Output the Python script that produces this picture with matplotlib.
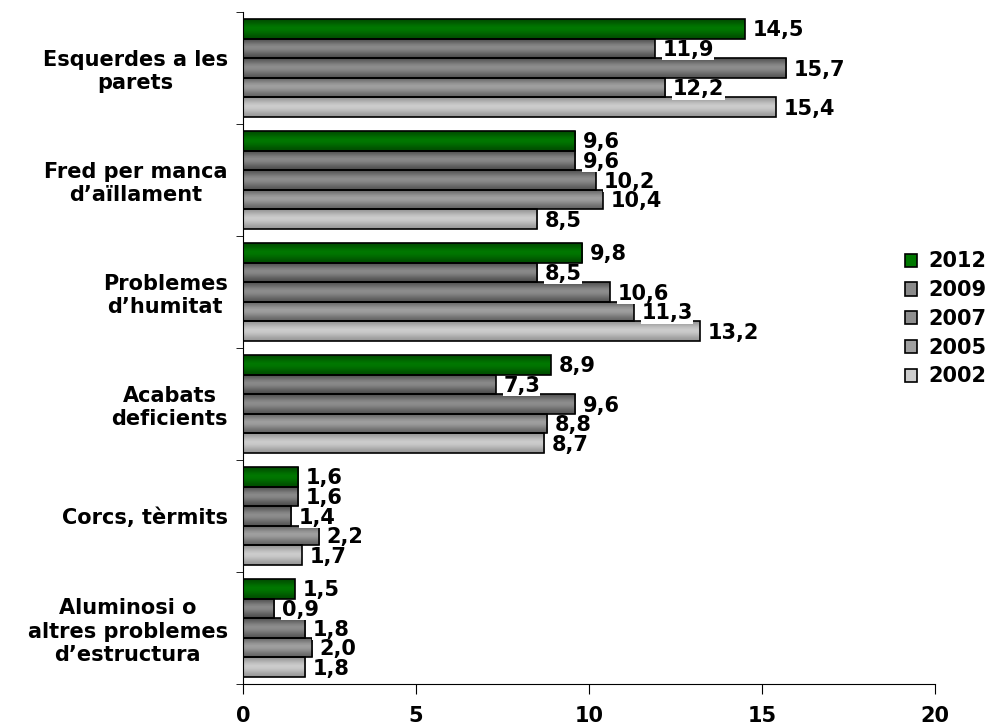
import numpy as np
import matplotlib
matplotlib.use('Agg')
import matplotlib.pyplot as plt
from matplotlib.colors import LinearSegmentedColormap
from matplotlib.patches import Patch

categories = ['Esquerdes a les\nparets', 'Fred per manca\nd\u2019a\u00efllament',
              'Problemes\nd\u2019humitat', 'Acabats\ndeficients',
              'Corcs, t\u00e8rmits', 'Aluminosi o\naltres problemes\nd\u2019estructura']
years = ['2012', '2009', '2007', '2005', '2002']
v2012 = [14.5, 9.6, 9.8, 8.9, 1.6, 1.5]
v2009 = [11.9, 9.6, 8.5, 7.3, 1.6, 0.9]
v2007 = [15.7, 10.2, 10.6, 9.6, 1.4, 1.8]
v2005 = [12.2, 10.4, 11.3, 8.8, 2.2, 2.0]
v2002 = [15.4, 8.5, 13.2, 8.7, 1.7, 1.8]
series = [v2012, v2009, v2007, v2005, v2002]

# (edge shade, centre shade) for the cylinder-like gradient
shades = [('#005000', '#007800'), ('#505050', '#8a8a8a'), ('#585858', '#8e8e8e'),
          ('#666666', '#a0a0a0'), ('#9a9a9a', '#cdcdcd')]

plt.rcParams['font.family'] = ['DejaVu Sans']
plt.rcParams['font.weight'] = 'bold'
fs = 15

fig = plt.figure(figsize=(9.88, 7.25), dpi=100)
ax = fig.add_axes([243 / 988, 1 - 684 / 725, (935 - 243) / 988, (684 - 12) / 725])

n = len(years)
bh = 0.175
y = np.arange(len(categories))
grad = np.array([0.0, 0.35, 0.75, 1.0, 0.9, 0.6, 0.25, 0.0]).reshape(-1, 1)

for i, (vals, (dark, light)) in enumerate(zip(series, shades)):
    pos = y - (n - 1) / 2 * bh + i * bh
    bars = ax.barh(pos, vals, height=bh, color=light, edgecolor='none', zorder=2)
    cmap = LinearSegmentedColormap.from_list('g%d' % i, [dark, light])
    for r in bars:
        x0, y0 = r.get_x(), r.get_y()
        w, h = r.get_width(), r.get_height()
        im = ax.imshow(grad, cmap=cmap, aspect='auto', extent=[x0, x0 + w, y0 + h, y0],
                       zorder=2.1, interpolation='bilinear')
        im.set_clip_path(r)
    ax.barh(pos, vals, height=bh, fill=False, edgecolor='black', linewidth=1.2, zorder=3)
    for p, v in zip(pos, vals):
        ax.text(v + 0.22, p + 0.015, f'{v:.1f}'.replace('.', ','), ha='left', va='center',
                fontsize=fs, fontweight='bold', zorder=4,
                bbox=dict(facecolor='white', edgecolor='none', pad=0.3))

ax.set_xlim(0, 20)
ax.set_ylim(len(categories) - 0.5, -0.5)
ax.set_xticks([0, 5, 10, 15, 20])
ax.set_xticklabels(['0', '5', '10', '15', '20'], fontsize=fs, fontweight='bold')
ax.set_yticks(y)
ax.set_yticklabels(categories, fontsize=fs, fontweight='bold', multialignment='center')
ax.set_yticks(np.arange(len(categories) + 1) - 0.5, minor=True)
ax.tick_params(axis='y', which='major', length=0, pad=11)
ax.tick_params(axis='y', which='minor', length=5, direction='out')
ax.tick_params(axis='x', length=7, direction='out', pad=9)
for s in ['top', 'right']:
    ax.spines[s].set_visible(False)

handles = [Patch(facecolor=light, edgecolor='black', linewidth=1.2) for _, light in shades]
fig.legend(handles, years, loc='center right', bbox_to_anchor=(986 / 988, 1 - 319 / 725),
           frameon=False, borderpad=0, borderaxespad=0, handlelength=0.6, handleheight=0.6,
           handletextpad=0.5, labelspacing=0.42, prop={'weight': 'bold', 'size': fs})

fig.savefig('out.png', dpi=100)
